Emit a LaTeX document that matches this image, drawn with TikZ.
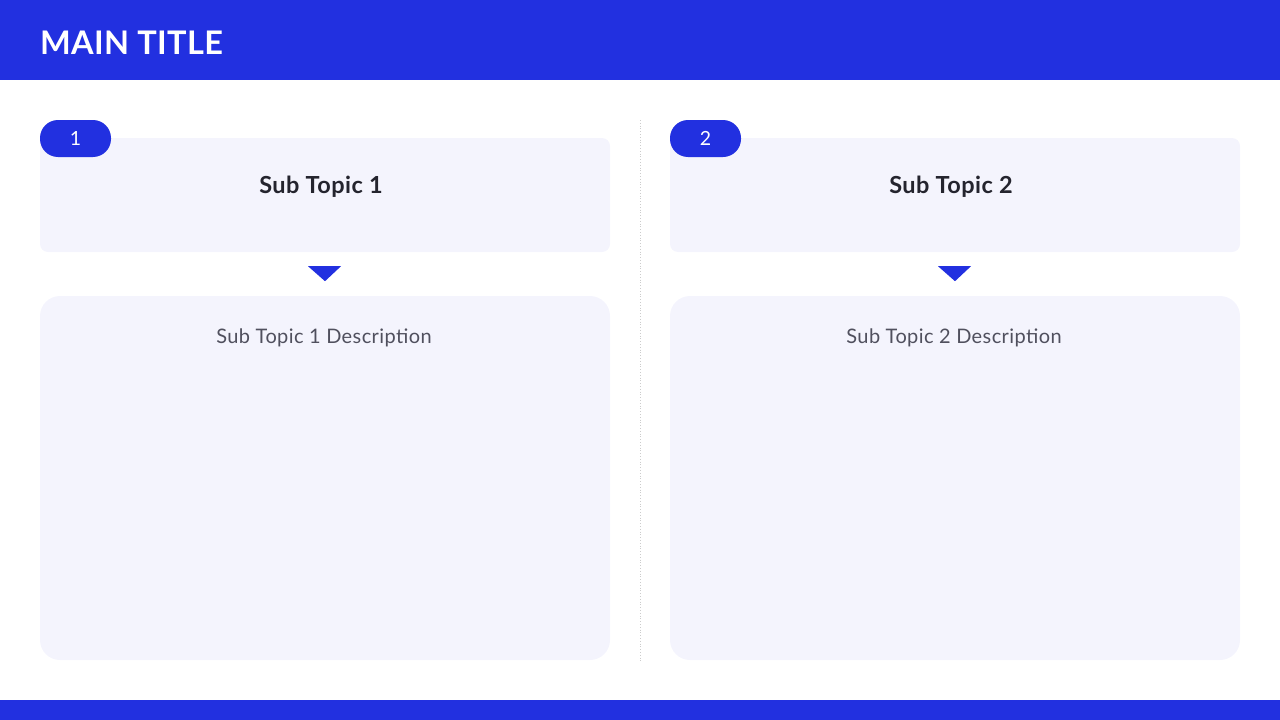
\documentclass[tikz,border=0pt]{standalone}
\usepackage{fontspec}
\setmainfont{Lato}
\usetikzlibrary{calc}
\definecolor{brand}{HTML}{2230E0}
\definecolor{panel}{HTML}{F4F4FD}
\definecolor{ink}{HTML}{24242E}
\definecolor{soft}{HTML}{50505E}
\tikzset{x=1pt,y=-1pt,
    head/.style={
        fill=panel,
        rounded corners=8pt,
        minimum width=570pt,
        minimum height=114pt,
        inner sep=0pt},
    desc/.style={
        fill=panel,
        rounded corners=20pt,
        minimum width=570pt,
        minimum height=364pt,
        inner sep=0pt},
    badge/.style={
        fill=brand,
        rounded corners=18pt,
        minimum width=71pt,
        minimum height=37pt,
        inner sep=0pt,
        text=white,
        font=\fontsize{19.5}{22}\selectfont},
    marker/.style={
        fill=brand}}

\begin{document}
\begin{tikzpicture}
        \useasboundingbox (0,0) rectangle (1280,720);
        \fill[brand] (0,0) rectangle (1280,80);
        \fill[brand] (0,700) rectangle (1280,720);
        \node[anchor=base west, text=white, inner sep=0pt,
              font=\fontsize{32.5}{36}\selectfont\bfseries\addfontfeature{LetterSpace=1}] (title) at (40,54) {MAIN TITLE};

        \draw[gray!40, dotted, line width=0.8pt] (640,120) -- (640,662);

        \node[head] (head1) at (325,195) {};
        \node[head] (head2) at (955,195) {};
        \node[desc] (desc1) at (325,478) {};
        \node[desc] (desc2) at (955,478) {};

        \node[text=ink, font=\fontsize{23.5}{26}\selectfont\bfseries\addfontfeature{LetterSpace=2}] (h1) at (321,187) {Sub Topic 1};
        \node[text=ink, font=\fontsize{23.5}{26}\selectfont\bfseries\addfontfeature{LetterSpace=2}] (h2) at (951,187) {Sub Topic 2};

        \node[badge] (b1) at (75.5,138.5) {1};
        \node[badge] (b2) at (705.5,138.5) {2};

        \node[text=soft, font=\fontsize{20}{22}\selectfont\addfontfeature{LetterSpace=2}] (d1) at (324,338) {Sub Topic 1 Description};
        \node[text=soft, font=\fontsize{20}{22}\selectfont\addfontfeature{LetterSpace=2}] (d2) at (954,338) {Sub Topic 2 Description};

        \fill[marker] ($(head1.south)+(-17,14)$) -- ($(head1.south)+(16,14)$) -- ($(head1.south)+(0,29)$) -- cycle;
        \fill[marker] ($(head2.south)+(-17,14)$) -- ($(head2.south)+(16,14)$) -- ($(head2.south)+(0,29)$) -- cycle;
    \end{tikzpicture}
\end{document}
